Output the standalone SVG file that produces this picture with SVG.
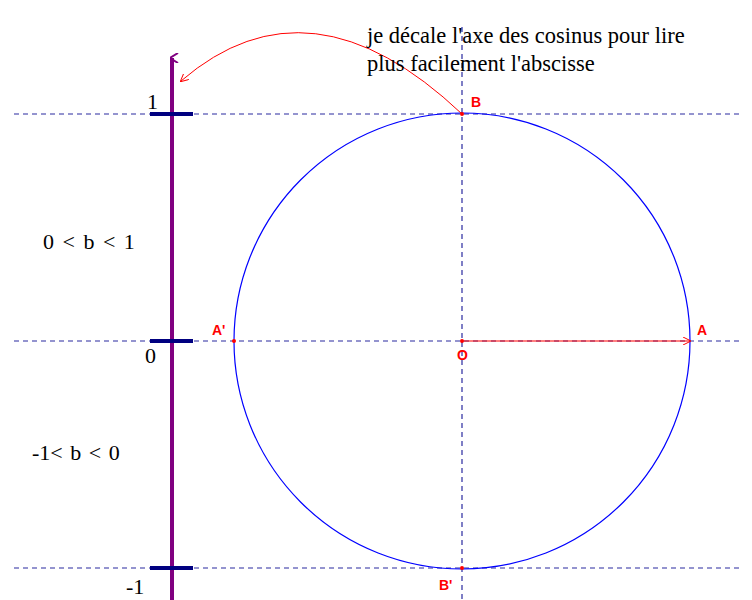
<svg xmlns="http://www.w3.org/2000/svg" width="752" height="600" viewBox="0 0 752 600">
<style>
.dash{stroke:#2a2aa0;stroke-width:1.2;stroke-dasharray:5,4;fill:none}
.tick{stroke:#000080;stroke-width:4}
.lbl{font-family:"Liberation Serif",serif;font-size:22px;fill:#000}
.txt{font-family:"Liberation Serif",serif;font-size:22.5px;fill:#000}
.pt{font-family:"Liberation Sans",sans-serif;font-size:14px;font-weight:bold;fill:#ff0000}
</style>
<defs>
<marker id="ar" markerWidth="8" markerHeight="8" refX="7" refY="4" orient="auto" markerUnits="userSpaceOnUse">
<path d="M0,0 L8,4 L0,8" fill="none" stroke="#ff0000" stroke-width="1"/>
</marker>
<marker id="ap" markerWidth="10" markerHeight="10" refX="5" refY="2" orient="auto" markerUnits="userSpaceOnUse">
<path d="M0,8 L5,0 L10,8" fill="none" stroke="#800080" stroke-width="2"/>
</marker>
</defs>
<rect width="752" height="600" fill="#fff"/>
<g id="grid">
<line class="dash" x1="14" y1="114" x2="741" y2="114"/>
<line class="dash" x1="14" y1="341" x2="741" y2="341"/>
<line class="dash" x1="14" y1="568" x2="741" y2="568"/>
<line class="dash" x1="462" y1="27" x2="462" y2="600"/>
</g>
<g id="circle"><circle cx="462" cy="341" r="228" fill="none" stroke="#0000ff" stroke-width="1.2"/></g>
<g id="axis">
<line x1="172" y1="600" x2="172" y2="58" stroke="#800080" stroke-width="4" marker-end="url(#ap)"/>
<line class="tick" x1="150" y1="114" x2="193" y2="114"/>
<line class="tick" x1="150" y1="341" x2="193" y2="341"/>
<line class="tick" x1="150" y1="568" x2="193" y2="568"/>
</g>
<g id="connectors">
<path d="M462,114 Q310,-30 181,81" fill="none" stroke="#ff0000" stroke-width="1" marker-end="url(#ar)"/>
<line x1="462" y1="341" x2="690" y2="341" stroke="#ff0000" stroke-width="1.2" marker-end="url(#ar)"/>
</g>
<g id="points" fill="#ff0000">
<circle cx="234" cy="341" r="2"/>
<circle cx="462" cy="114" r="2"/>
<circle cx="462" cy="568" r="2"/>
<circle cx="462" cy="341" r="2"/>
</g>
<g id="labels">
<text class="pt" x="471" y="107">B</text>
<text class="pt" x="212" y="335">A'</text>
<text class="pt" x="697" y="335">A</text>
<text class="pt" x="457" y="360">O</text>
<text class="pt" x="439" y="590">B'</text>
<text class="lbl" x="147" y="109">1</text>
<text class="lbl" x="145" y="363">0</text>
<text class="lbl" x="126" y="594">-1</text>
<text class="lbl" x="43" y="249" word-spacing="3">0 &lt; b &lt; 1</text>
<text class="lbl" x="32" y="460" word-spacing="2">-1&lt; b &lt; 0</text>
<text class="txt" x="367" y="43">je décale l'axe des cosinus pour lire</text>
<text class="txt" x="367" y="71">plus facilement l'abscisse</text>
</g>
</svg>
